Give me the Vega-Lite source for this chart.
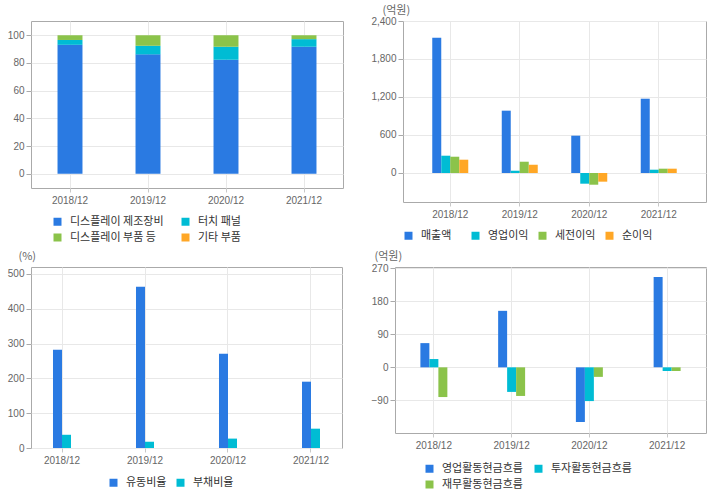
{
  "$schema": "https://vega.github.io/schema/vega-lite/v6.json",
  "padding": {"left": 6, "top": 3, "right": 5, "bottom": 0},
  "columns": 2,
  "align": "none",
  "spacing": {"row": 5, "column": 26},
  "resolve": {"scale": {"color": "independent", "xOffset": "independent", "x": "independent", "y": "independent"}, "legend": {"color": "independent"}},
  "datasets": {
    "mix": [
      {"year": "2018/12", "item": "디스플레이 제조장비", "k": 1, "value": 93.1},
      {"year": "2018/12", "item": "터치 패널", "k": 2, "value": 3.5},
      {"year": "2018/12", "item": "디스플레이 부품 등", "k": 3, "value": 3.4},
      {"year": "2018/12", "item": "기타 부품", "k": 4, "value": 0},
      {"year": "2019/12", "item": "디스플레이 제조장비", "k": 1, "value": 86.2},
      {"year": "2019/12", "item": "터치 패널", "k": 2, "value": 6.2},
      {"year": "2019/12", "item": "디스플레이 부품 등", "k": 3, "value": 7.6},
      {"year": "2019/12", "item": "기타 부품", "k": 4, "value": 0},
      {"year": "2020/12", "item": "디스플레이 제조장비", "k": 1, "value": 82.3},
      {"year": "2020/12", "item": "터치 패널", "k": 2, "value": 9.4},
      {"year": "2020/12", "item": "디스플레이 부품 등", "k": 3, "value": 8.3},
      {"year": "2020/12", "item": "기타 부품", "k": 4, "value": 0},
      {"year": "2021/12", "item": "디스플레이 제조장비", "k": 1, "value": 91.7},
      {"year": "2021/12", "item": "터치 패널", "k": 2, "value": 5.5},
      {"year": "2021/12", "item": "디스플레이 부품 등", "k": 3, "value": 2.8},
      {"year": "2021/12", "item": "기타 부품", "k": 4, "value": 0}
    ],
    "pl": [
      {"year": "2018/12", "item": "매출액", "value": 2136},
      {"year": "2018/12", "item": "영업이익", "value": 273},
      {"year": "2018/12", "item": "세전이익", "value": 257},
      {"year": "2018/12", "item": "순이익", "value": 210},
      {"year": "2019/12", "item": "매출액", "value": 984},
      {"year": "2019/12", "item": "영업이익", "value": 36},
      {"year": "2019/12", "item": "세전이익", "value": 178},
      {"year": "2019/12", "item": "순이익", "value": 131},
      {"year": "2020/12", "item": "매출액", "value": 589},
      {"year": "2020/12", "item": "영업이익", "value": -169},
      {"year": "2020/12", "item": "세전이익", "value": -185},
      {"year": "2020/12", "item": "순이익", "value": -137},
      {"year": "2021/12", "item": "매출액", "value": 1173},
      {"year": "2021/12", "item": "영업이익", "value": 52},
      {"year": "2021/12", "item": "세전이익", "value": 68},
      {"year": "2021/12", "item": "순이익", "value": 68}
    ],
    "ratio": [
      {"year": "2018/12", "item": "유동비율", "value": 282.5},
      {"year": "2018/12", "item": "부채비율", "value": 38},
      {"year": "2019/12", "item": "유동비율", "value": 463.5},
      {"year": "2019/12", "item": "부채비율", "value": 18},
      {"year": "2020/12", "item": "유동비율", "value": 271},
      {"year": "2020/12", "item": "부채비율", "value": 27},
      {"year": "2021/12", "item": "유동비율", "value": 190.5},
      {"year": "2021/12", "item": "부채비율", "value": 55.5}
    ],
    "cf": [
      {"year": "2018/12", "item": "영업활동현금흐름", "value": 66},
      {"year": "2018/12", "item": "투자활동현금흐름", "value": 22.6},
      {"year": "2018/12", "item": "재무활동현금흐름", "value": -81},
      {"year": "2019/12", "item": "영업활동현금흐름", "value": 154},
      {"year": "2019/12", "item": "투자활동현금흐름", "value": -67},
      {"year": "2019/12", "item": "재무활동현금흐름", "value": -78},
      {"year": "2020/12", "item": "영업활동현금흐름", "value": -149},
      {"year": "2020/12", "item": "투자활동현금흐름", "value": -92},
      {"year": "2020/12", "item": "재무활동현금흐름", "value": -26},
      {"year": "2021/12", "item": "영업활동현금흐름", "value": 246},
      {"year": "2021/12", "item": "투자활동현금흐름", "value": -10},
      {"year": "2021/12", "item": "재무활동현금흐름", "value": -10}
    ]
  },
  "concat": [
    {
      "width": 312,
      "height": 167,
      "data": {"name": "mix"},
      "mark": {"type": "bar"},
      "encoding": {
        "x": {"field": "year", "type": "nominal", "title": null,
              "scale": {"paddingInner": 0.68, "paddingOuter": 0.34}},
        "y": {"field": "value", "type": "quantitative", "stack": "zero",
              "scale": {"domain": [-10.3, 110.3], "nice": false, "zero": false},
              "axis": {"values": [0, 20, 40, 60, 80, 100], "title": null}},
        "order": {"field": "k", "type": "quantitative"},
        "color": {"field": "item", "type": "nominal",
                  "sort": ["디스플레이 제조장비", "터치 패널", "디스플레이 부품 등", "기타 부품"],
                  "scale": {"domain": ["디스플레이 제조장비", "터치 패널", "디스플레이 부품 등", "기타 부품"],
                            "range": ["#2a7ae2", "#00bcd4", "#8bc34a", "#ffa726"]},
                  "legend": {"title": null, "orient": "none", "legendX": 21, "legendY": 195, "direction": "horizontal", "columns": 2, "gridAlign": "each", "columnPadding": 16}}
      }
    },
    {
      "width": 303,
      "height": 181,
      "data": {"name": "pl"},
      "mark": {"type": "bar"},
      "encoding": {
        "x": {"field": "year", "type": "nominal", "title": null,
              "scale": {"paddingInner": 0.482, "paddingOuter": 0.421}},
        "xOffset": {"field": "item", "type": "nominal", "sort": ["매출액", "영업이익", "세전이익", "순이익"]},
        "y": {"field": "value", "type": "quantitative",
              "scale": {"domain": [-458, 2400], "nice": false, "zero": false},
              "axis": {"values": [0, 600, 1200, 1800, 2400], "format": ",d", "title": "(억원)",
                       "titleAngle": 0, "titleAlign": "left", "titleBaseline": "middle", "titleX": -21, "titleY": -11}},
        "color": {"field": "item", "type": "nominal",
                  "sort": ["매출액", "영업이익", "세전이익", "순이익"],
                  "scale": {"domain": ["매출액", "영업이익", "세전이익", "순이익"],
                            "range": ["#2a7ae2", "#00bcd4", "#8bc34a", "#ffa726"]},
                  "legend": {"title": null, "orient": "none", "legendX": 0, "legendY": 209, "direction": "horizontal", "columns": 4, "gridAlign": "all", "columnPadding": 8}}
      }
    },
    {
      "width": 311,
      "height": 181,
      "data": {"name": "ratio"},
      "mark": {"type": "bar"},
      "encoding": {
        "x": {"field": "year", "type": "nominal", "title": null,
              "scale": {"paddingInner": 0.783, "paddingOuter": 0.265}},
        "xOffset": {"field": "item", "type": "nominal", "sort": ["유동비율", "부채비율"]},
        "y": {"field": "value", "type": "quantitative",
              "scale": {"domain": [0, 520], "nice": false},
              "axis": {"values": [0, 100, 200, 300, 400, 500], "title": "(%)",
                       "titleAngle": 0, "titleAlign": "left", "titleBaseline": "middle", "titleX": -13, "titleY": -11}},
        "color": {"field": "item", "type": "nominal",
                  "sort": ["유동비율", "부채비율"],
                  "scale": {"domain": ["유동비율", "부채비율"], "range": ["#2a7ae2", "#00bcd4"]},
                  "legend": {"title": null, "orient": "none", "legendX": 77, "legendY": 210, "direction": "horizontal", "columns": 2, "gridAlign": "all", "columnPadding": 8}}
      }
    },
    {
      "width": 311,
      "height": 166,
      "data": {"name": "cf"},
      "mark": {"type": "bar"},
      "encoding": {
        "x": {"field": "year", "type": "nominal", "title": null,
              "scale": {"paddingInner": 0.653, "paddingOuter": 0.3265}},
        "xOffset": {"field": "item", "type": "nominal", "sort": ["영업활동현금흐름", "투자활동현금흐름", "재무활동현금흐름"]},
        "y": {"field": "value", "type": "quantitative",
              "scale": {"domain": [-179, 273.5], "nice": false, "zero": false},
              "axis": {"values": [-90, 0, 90, 180, 270], "title": "(억원)",
                       "titleAngle": 0, "titleAlign": "left", "titleBaseline": "middle", "titleX": -21, "titleY": -11}},
        "color": {"field": "item", "type": "nominal",
                  "sort": ["영업활동현금흐름", "투자활동현금흐름", "재무활동현금흐름"],
                  "scale": {"domain": ["영업활동현금흐름", "투자활동현금흐름", "재무활동현금흐름"],
                            "range": ["#2a7ae2", "#00bcd4", "#8bc34a"]},
                  "legend": {"title": null, "orient": "none", "legendX": 29, "legendY": 196, "direction": "horizontal", "columns": 2, "gridAlign": "all", "columnPadding": 10}}
      }
    }
  ],
  "config": {
    "view": {"stroke": "#aaaaaa", "strokeWidth": 1, "fill": "white"},
    "font": "Noto Sans CJK KR",
    "axis": {"labelFont": "Liberation Sans", "labelFontSize": 10, "labelColor": "#666666",
             "gridColor": "#e8e8e8", "tickColor": "#c8c8c8", "domain": false,
             "titleFont": "Noto Sans CJK KR", "titleFontSize": 11, "titleColor": "#666666", "titleFontWeight": "normal"},
    "axisX": {"tickSize": 4, "labelPadding": 3, "labelAngle": 0, "grid": true},
    "axisY": {"tickSize": 5, "labelPadding": 2, "tickColor": "#aaaaaa"},
    "legend": {"labelFont": "Noto Sans CJK KR", "labelFontSize": 11, "labelColor": "#333333",
               "symbolType": "square", "symbolSize": 64, "symbolStrokeWidth": 0, "labelOffset": 7,
               "padding": 0, "rowPadding": 4}
  }
}
